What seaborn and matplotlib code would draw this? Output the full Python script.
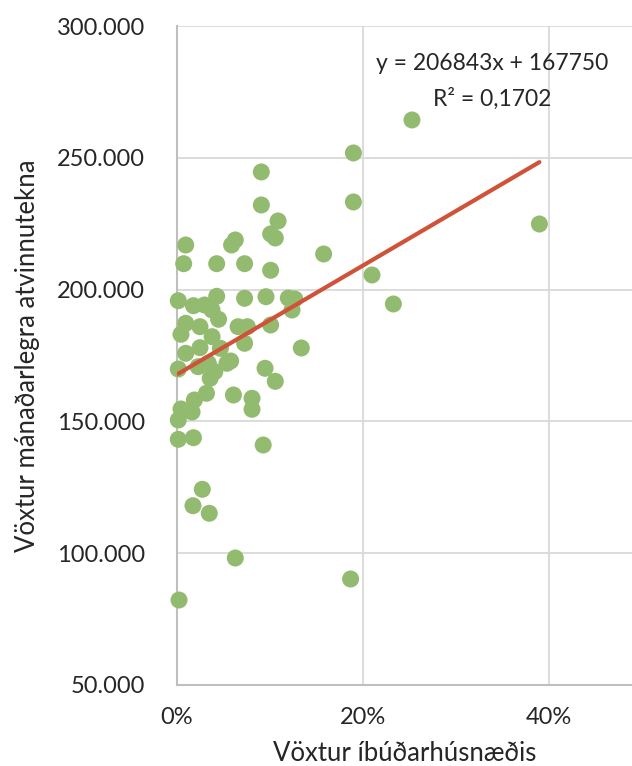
import numpy as np
import pandas as pd
import matplotlib
matplotlib.use("Agg")
import matplotlib.pyplot as plt
from matplotlib.ticker import FuncFormatter
import seaborn as sns

# Growth in residential housing (share) vs. growth in monthly employer count
housing_growth = [
    0.253, 0.190, 0.190, 0.390, 0.158, 0.210, 0.233, 0.134, 0.187, 0.120,
    0.127, 0.124, 0.091, 0.091, 0.109, 0.101, 0.106, 0.0097, 0.063, 0.059,
    0.0075, 0.043, 0.073, 0.101, 0.0017, 0.043, 0.073, 0.096, 0.018, 0.030,
    0.038, 0.045, 0.0097, 0.025, 0.0046, 0.038, 0.066, 0.076, 0.073, 0.101,
    0.0097, 0.025, 0.047, 0.0017, 0.023, 0.034, 0.054, 0.041, 0.036, 0.095,
    0.106, 0.032, 0.019, 0.061, 0.081, 0.081, 0.0046, 0.0165, 0.0017, 0.0017,
    0.018, 0.093, 0.0275, 0.0175, 0.035, 0.063, 0.0025, 0.058,
]
employer_growth = [
    264430, 251900, 233300, 224940, 213550, 205580, 194570, 177870, 90170, 196850,
    196470, 192290, 244690, 232160, 226080, 221150, 219630, 216970, 218870, 216970,
    209870, 209870, 209870, 207370, 195820, 197490, 196730, 197340, 193930, 194190,
    192290, 188760, 187240, 185950, 183070, 182160, 185950, 185950, 179650, 186600,
    175850, 177980, 177750, 169890, 170770, 172060, 172060, 168870, 166360, 170160,
    165220, 160670, 158120, 160020, 158770, 154600, 154710, 153570, 150530, 143200,
    143810, 141040, 124220, 117990, 115110, 98140, 82190, 172930,
]

# Linear trend reported on the chart
slope = 206843
intercept = 167750
r_squared = "0,1702"

x_ticks = [0.0, 0.2, 0.4]
y_ticks = [50000, 100000, 150000, 200000, 250000, 300000]

df = pd.DataFrame({"x": housing_growth, "y": employer_growth})

sns.set_theme(style="whitegrid")
plt.rcParams["font.family"] = ["Lato", "DejaVu Sans"]
text_color = "#262626"

fig = plt.figure(figsize=(6.32, 7.66), dpi=100)
ax = fig.add_axes([0.2796, 0.106, 0.7204, 0.8597])

sns.scatterplot(data=df, x="x", y="y", ax=ax, s=150, color="#93BB70",
                edgecolor="none", alpha=1.0, zorder=3, clip_on=False)

xs = np.array([min(housing_growth), max(housing_growth)])
ax.plot(xs, slope * xs + intercept, color="#D05238", lw=3.0,
        solid_capstyle="round", zorder=4)

ax.text(0.339, 285800, f"y = {slope}x + {intercept}", ha="center", va="center",
        fontsize=16.5, color=text_color)
ax.text(0.339, 272600, f"R² = {r_squared}", ha="center", va="center",
        fontsize=16.5, color=text_color)

ax.set_xlim(0, 0.4896)
ax.set_ylim(50000, 300000)
ax.set_xticks(x_ticks)
ax.set_yticks(y_ticks)
ax.xaxis.set_major_formatter(FuncFormatter(lambda v, p: f"{v * 100:.0f}%"))
ax.yaxis.set_major_formatter(
    FuncFormatter(lambda v, p: f"{int(v):,}".replace(",", ".")))

ax.grid(True, color="#D9D9D9", lw=1.3)
ax.set_axisbelow(True)
for side in ["top", "right"]:
    ax.spines[side].set_visible(False)
for side in ["left", "bottom"]:
    ax.spines[side].set_color("#BFBFBF")
    ax.spines[side].set_linewidth(1.5)

ax.tick_params(axis="both", length=0, labelsize=17, labelcolor=text_color)
ax.tick_params(axis="y", pad=23)
ax.tick_params(axis="x", pad=16)

ax.set_xlabel("Vöxtur íbúðarhúsnæðis", fontsize=18.5, color=text_color,
              labelpad=9)
ax.set_ylabel("Vöxtur mánaðarlegra atvinnutekna", fontsize=18.5, color=text_color,
              labelpad=12)

fig.savefig("out.png", dpi=100)
